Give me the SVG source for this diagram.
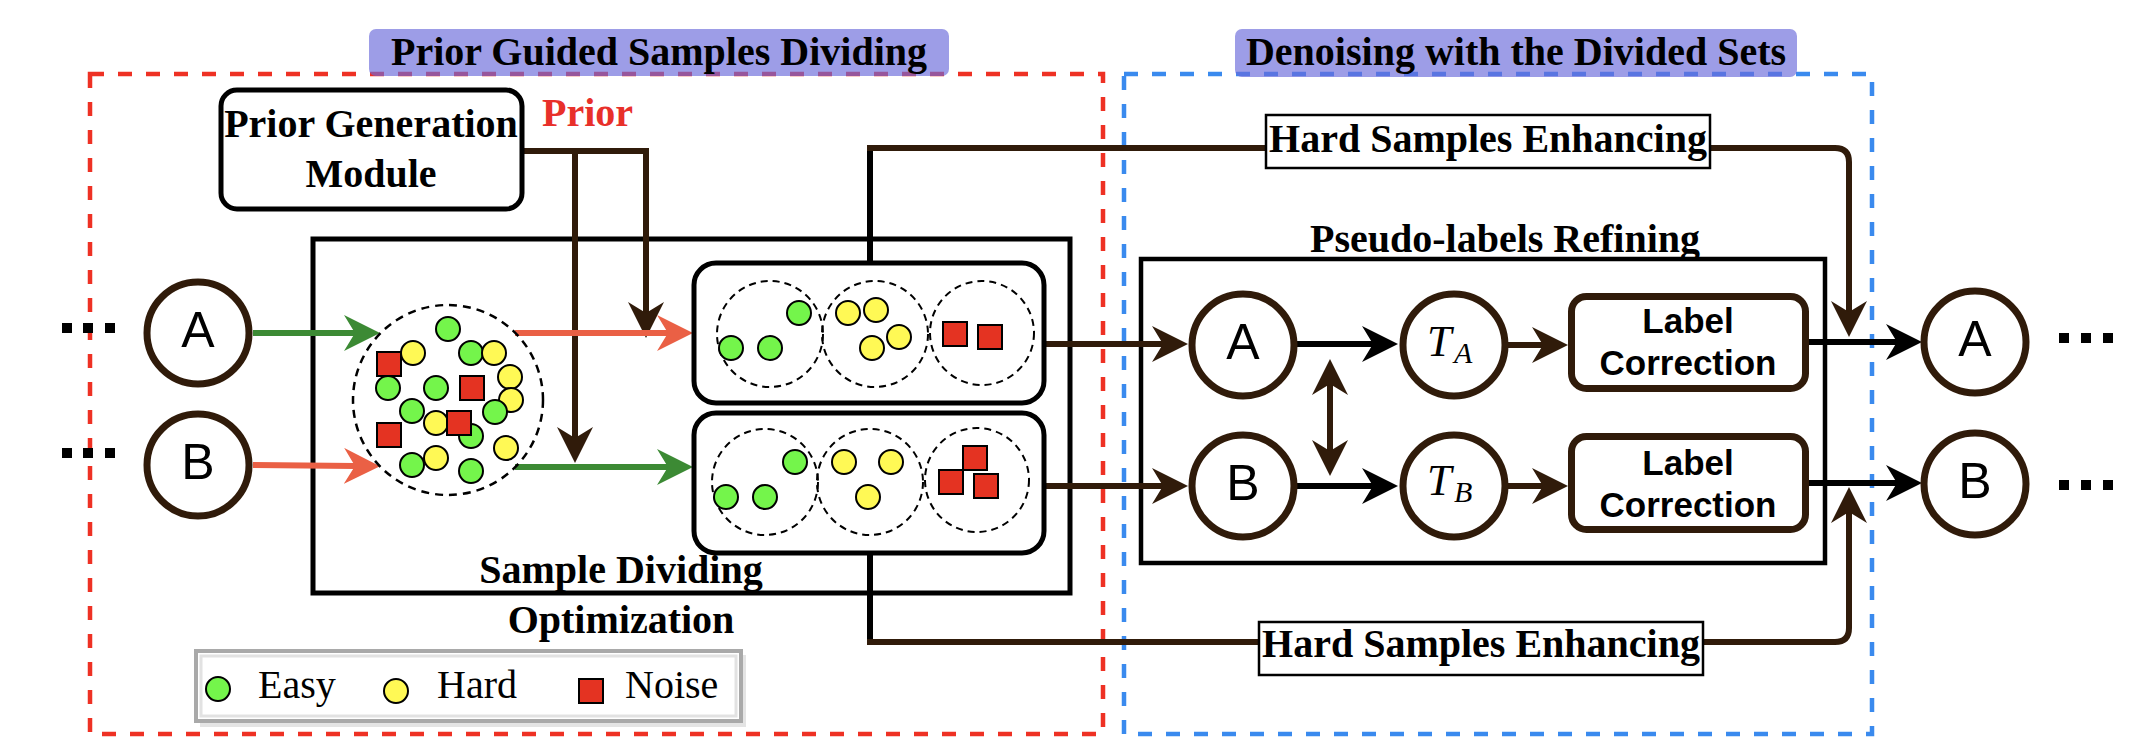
<svg xmlns="http://www.w3.org/2000/svg" width="2146" height="754" viewBox="0 0 2146 754">
<style>
.bold{font-family:"Liberation Serif","Times New Roman",serif;font-weight:bold;font-size:40px;fill:#000}
.reg{font-family:"Liberation Serif","Times New Roman",serif;font-size:40px;fill:#000}
.sans{font-family:"Liberation Sans",Arial,sans-serif;font-size:50px;fill:#000}
.sansb{font-family:"Liberation Sans",Arial,sans-serif;font-weight:bold;font-size:35px;fill:#000}
.math{font-family:"Liberation Serif","Times New Roman",serif;font-style:italic;fill:#000}
.node{fill:#fff;stroke:#301b0a;stroke-width:7}
.dcirc{fill:none;stroke:#000;stroke-width:2;stroke-dasharray:7 5}
.g{fill:#74f54b;stroke:#000;stroke-width:2}
.y{fill:#fff955;stroke:#000;stroke-width:2}
.r{fill:#e43322;stroke:#000;stroke-width:2}
.brown{fill:none;stroke:#301b0a;stroke-width:6}
.black{fill:none;stroke:#000;stroke-width:6}
.dot{fill:#000}
.title{fill:#6a6adb;opacity:0.66}
</style>
<defs>
<marker id="ah-brown" viewBox="0 0 36 36" refX="11" refY="18" markerWidth="36" markerHeight="36" markerUnits="userSpaceOnUse" orient="auto-start-reverse"><path d="M0,0 L36,18 L0,36 L11,18 Z" fill="#301b0a"/></marker>
<marker id="ah-black" viewBox="0 0 36 36" refX="11" refY="18" markerWidth="36" markerHeight="36" markerUnits="userSpaceOnUse" orient="auto"><path d="M0,0 L36,18 L0,36 L11,18 Z" fill="#000"/></marker>
<marker id="ah-green" viewBox="0 0 36 36" refX="11" refY="18" markerWidth="36" markerHeight="36" markerUnits="userSpaceOnUse" orient="auto"><path d="M0,0 L36,18 L0,36 L11,18 Z" fill="#3c8a34"/></marker>
<marker id="ah-orange" viewBox="0 0 36 36" refX="11" refY="18" markerWidth="36" markerHeight="36" markerUnits="userSpaceOnUse" orient="auto"><path d="M0,0 L36,18 L0,36 L11,18 Z" fill="#ea6045"/></marker>
</defs>
<rect width="2146" height="754" fill="#fff"/>

<g id="region-dividing">
<rect x="90" y="74" width="1013" height="660" fill="none" stroke="#ee3124" stroke-width="4.5" stroke-dasharray="14 14"/>
<rect class="title" x="369" y="29" width="580" height="47" rx="7"/>
<text class="bold" x="659" y="65" text-anchor="middle">Prior Guided Samples Dividing</text>
</g>
<g id="region-denoising">
<rect x="1124" y="74" width="748" height="660" fill="none" stroke="#3a8aee" stroke-width="4.5" stroke-dasharray="14 14"/>
<rect class="title" x="1235" y="29" width="562" height="48" rx="7"/>
<text class="bold" x="1516" y="65" text-anchor="middle">Denoising with the Divided Sets</text>
</g>

<g id="sample-dividing-optimization">
<rect x="313" y="239" width="757" height="354" fill="none" stroke="#000" stroke-width="5"/>
<text class="bold" x="621" y="583" text-anchor="middle">Sample Dividing</text>
<text class="bold" x="621" y="633" text-anchor="middle">Optimization</text>
</g>
<g id="pseudo-labels-refining">
<rect x="1141" y="259" width="684" height="304" fill="none" stroke="#000" stroke-width="4.5"/>
<text class="bold" x="1310" y="252">Pseudo-labels Refining</text>
</g>

<g id="connectors">
<path class="brown" d="M522,151 H646 V313" marker-end="url(#ah-brown)"/>
<path class="brown" d="M575,151 V438" marker-end="url(#ah-brown)"/>
<path d="M253,333 H355" fill="none" stroke="#3c8a34" stroke-width="6" marker-end="url(#ah-green)"/>
<path d="M253,465 L355,466" fill="none" stroke="#ea6045" stroke-width="6" marker-end="url(#ah-orange)"/>
<path d="M515,333 H668" fill="none" stroke="#ea6045" stroke-width="6" marker-end="url(#ah-orange)"/>
<path d="M515,467 H668" fill="none" stroke="#3c8a34" stroke-width="6" marker-end="url(#ah-green)"/>
<path class="black" d="M870,263 V148"/>
<path class="black" d="M870,553 V642"/>
<path class="brown" d="M867,148 H1266"/>
<path class="brown" d="M1710,148 H1835 Q1849,148 1849,162 V312" marker-end="url(#ah-brown)"/>
<path class="brown" d="M867,642 H1259"/>
<path class="brown" d="M1703,642 H1835 Q1849,642 1849,628 V512" marker-end="url(#ah-brown)"/>
<path class="brown" d="M1044,344 H1163" marker-end="url(#ah-brown)"/>
<path class="brown" d="M1044,486 H1163" marker-end="url(#ah-brown)"/>
<path class="black" d="M1297,344 H1373" marker-end="url(#ah-black)"/>
<path class="black" d="M1297,486 H1373" marker-end="url(#ah-black)"/>
<path class="brown" d="M1330,384 V451" marker-start="url(#ah-brown)" marker-end="url(#ah-brown)"/>
<path class="brown" d="M1505,345 H1543" marker-end="url(#ah-brown)"/>
<path class="brown" d="M1505,486 H1543" marker-end="url(#ah-brown)"/>
<path class="black" d="M1809,342 H1897" marker-end="url(#ah-black)"/>
<path class="black" d="M1809,483 H1897" marker-end="url(#ah-black)"/>
</g>

<g id="prior-generation-module">
<rect x="221" y="90" width="301" height="119" rx="16" fill="#fff" stroke="#000" stroke-width="5"/>
<text class="bold" x="371" y="137" text-anchor="middle">Prior Generation</text>
<text class="bold" x="371" y="187" text-anchor="middle">Module</text>
</g>
<g id="prior-label">
<text class="bold" x="542" y="126" style="fill:#e8302a">Prior</text>
</g>

<g id="input-a">
<rect class="dot" x="62" y="323" width="10" height="10"/><rect class="dot" x="83" y="323" width="10" height="10"/><rect class="dot" x="105" y="323" width="10" height="10"/>
<circle class="node" cx="198" cy="333" r="51"/>
<text class="sans" x="198" y="347" text-anchor="middle">A</text>
</g>
<g id="input-b">
<rect class="dot" x="62" y="448" width="10" height="10"/><rect class="dot" x="83" y="448" width="10" height="10"/><rect class="dot" x="105" y="448" width="10" height="10"/>
<circle class="node" cx="198" cy="465" r="51"/>
<text class="sans" x="198" y="479" text-anchor="middle">B</text>
</g>

<g id="mixed-samples">
<circle cx="448" cy="400" r="95" fill="none" stroke="#000" stroke-width="2.5" stroke-dasharray="8 6"/>
<circle class="g" cx="448" cy="329" r="12"/><circle class="g" cx="471" cy="353" r="12"/><circle class="g" cx="388" cy="388" r="12"/><circle class="g" cx="436" cy="388" r="12"/><circle class="g" cx="412" cy="411" r="12"/><circle class="g" cx="471" cy="436" r="12"/><circle class="g" cx="412" cy="465" r="12"/><circle class="g" cx="471" cy="471" r="12"/>
<circle class="y" cx="413" cy="353" r="12"/><circle class="y" cx="494" cy="353" r="12"/><circle class="y" cx="510" cy="377" r="12"/><circle class="y" cx="511" cy="400" r="12"/><circle class="y" cx="436" cy="423" r="12"/><circle class="y" cx="436" cy="458" r="12"/><circle class="y" cx="506" cy="448" r="12"/>
<circle class="g" cx="495" cy="412" r="12"/>
<rect class="r" x="377" y="352" width="24" height="24"/><rect class="r" x="460" y="376" width="24" height="24"/><rect class="r" x="447" y="411" width="24" height="24"/><rect class="r" x="377" y="423" width="24" height="24"/>
</g>

<g id="divided-set-a">
<rect x="694" y="263" width="350" height="140" rx="22" fill="#fff" stroke="#000" stroke-width="5"/>
<circle class="dcirc" cx="770" cy="334" r="53"/><circle class="dcirc" cx="875" cy="334" r="53"/><circle class="dcirc" cx="982" cy="333" r="52"/>
<circle class="g" cx="799" cy="313" r="12"/><circle class="g" cx="731" cy="348" r="12"/><circle class="g" cx="770" cy="348" r="12"/>
<circle class="y" cx="848" cy="313" r="12"/><circle class="y" cx="876" cy="310" r="12"/><circle class="y" cx="899" cy="337" r="12"/><circle class="y" cx="872" cy="348" r="12"/>
<rect class="r" x="943" y="322" width="24" height="24"/><rect class="r" x="978" y="325" width="24" height="24"/>
</g>
<g id="divided-set-b">
<rect x="694" y="413" width="350" height="140" rx="22" fill="#fff" stroke="#000" stroke-width="5"/>
<circle class="dcirc" cx="765" cy="482" r="53"/><circle class="dcirc" cx="870" cy="482" r="53"/><circle class="dcirc" cx="977" cy="480" r="52"/>
<circle class="g" cx="795" cy="462" r="12"/><circle class="g" cx="726" cy="497" r="12"/><circle class="g" cx="765" cy="497" r="12"/>
<circle class="y" cx="844" cy="462" r="12"/><circle class="y" cx="891" cy="462" r="12"/><circle class="y" cx="868" cy="497" r="12"/>
<rect class="r" x="963" y="446" width="24" height="24"/><rect class="r" x="939" y="470" width="24" height="24"/><rect class="r" x="974" y="474" width="24" height="24"/>
</g>

<g id="hse-top">
<rect x="1266" y="115" width="444" height="53" fill="#fff" stroke="#000" stroke-width="2.5"/>
<text class="bold" x="1488" y="152" text-anchor="middle">Hard Samples Enhancing</text>
</g>
<g id="hse-bottom">
<rect x="1259" y="622" width="444" height="53" fill="#fff" stroke="#000" stroke-width="2.5"/>
<text class="bold" x="1481" y="657" text-anchor="middle">Hard Samples Enhancing</text>
</g>

<g id="refine-a">
<circle class="node" cx="1243" cy="345" r="51"/>
<text class="sans" x="1243" y="359" text-anchor="middle">A</text>
</g>
<g id="refine-b">
<circle class="node" cx="1243" cy="486" r="51"/>
<text class="sans" x="1243" y="500" text-anchor="middle">B</text>
</g>
<g id="t-a">
<circle class="node" cx="1454" cy="345" r="51"/>
<text class="math" x="1427" y="356" font-size="44">T</text>
<text class="math" x="1454" y="363" font-size="30">A</text>
</g>
<g id="t-b">
<circle class="node" cx="1454" cy="486" r="51"/>
<text class="math" x="1427" y="495" font-size="44">T</text>
<text class="math" x="1454" y="502" font-size="30">B</text>
</g>
<g id="label-correction-a">
<rect x="1571.5" y="296.5" width="234" height="92" rx="15" fill="#fff" stroke="#301b0a" stroke-width="7"/>
<text class="sansb" x="1688" y="333" text-anchor="middle">Label</text>
<text class="sansb" x="1688" y="375" text-anchor="middle">Correction</text>
</g>
<g id="label-correction-b">
<rect x="1571.5" y="436.5" width="234" height="93" rx="15" fill="#fff" stroke="#301b0a" stroke-width="7"/>
<text class="sansb" x="1688" y="475" text-anchor="middle">Label</text>
<text class="sansb" x="1688" y="517" text-anchor="middle">Correction</text>
</g>

<g id="output-a">
<circle class="node" cx="1975" cy="342" r="51"/>
<text class="sans" x="1975" y="356" text-anchor="middle">A</text>
<rect class="dot" x="2059" y="333" width="10" height="10"/><rect class="dot" x="2081" y="333" width="10" height="10"/><rect class="dot" x="2103" y="333" width="10" height="10"/>
</g>
<g id="output-b">
<circle class="node" cx="1975" cy="484" r="51"/>
<text class="sans" x="1975" y="498" text-anchor="middle">B</text>
<rect class="dot" x="2059" y="480" width="10" height="10"/><rect class="dot" x="2081" y="480" width="10" height="10"/><rect class="dot" x="2103" y="480" width="10" height="10"/>
</g>

<g id="legend">
<rect x="200" y="655" width="546" height="72" fill="#e4e4e4"/>
<rect x="196" y="651" width="545" height="70" fill="#fff" stroke="#a9a9a9" stroke-width="4"/>
<rect x="201" y="656" width="535" height="60" fill="none" stroke="#e2e2e2" stroke-width="3"/>
<circle class="g" cx="218" cy="689" r="12"/>
<text class="reg" x="258" y="698">Easy</text>
<circle class="y" cx="396" cy="691" r="12"/>
<text class="reg" x="437" y="698">Hard</text>
<rect class="r" x="579" y="679" width="24" height="24"/>
<text class="reg" x="625" y="698">Noise</text>
</g>
</svg>
